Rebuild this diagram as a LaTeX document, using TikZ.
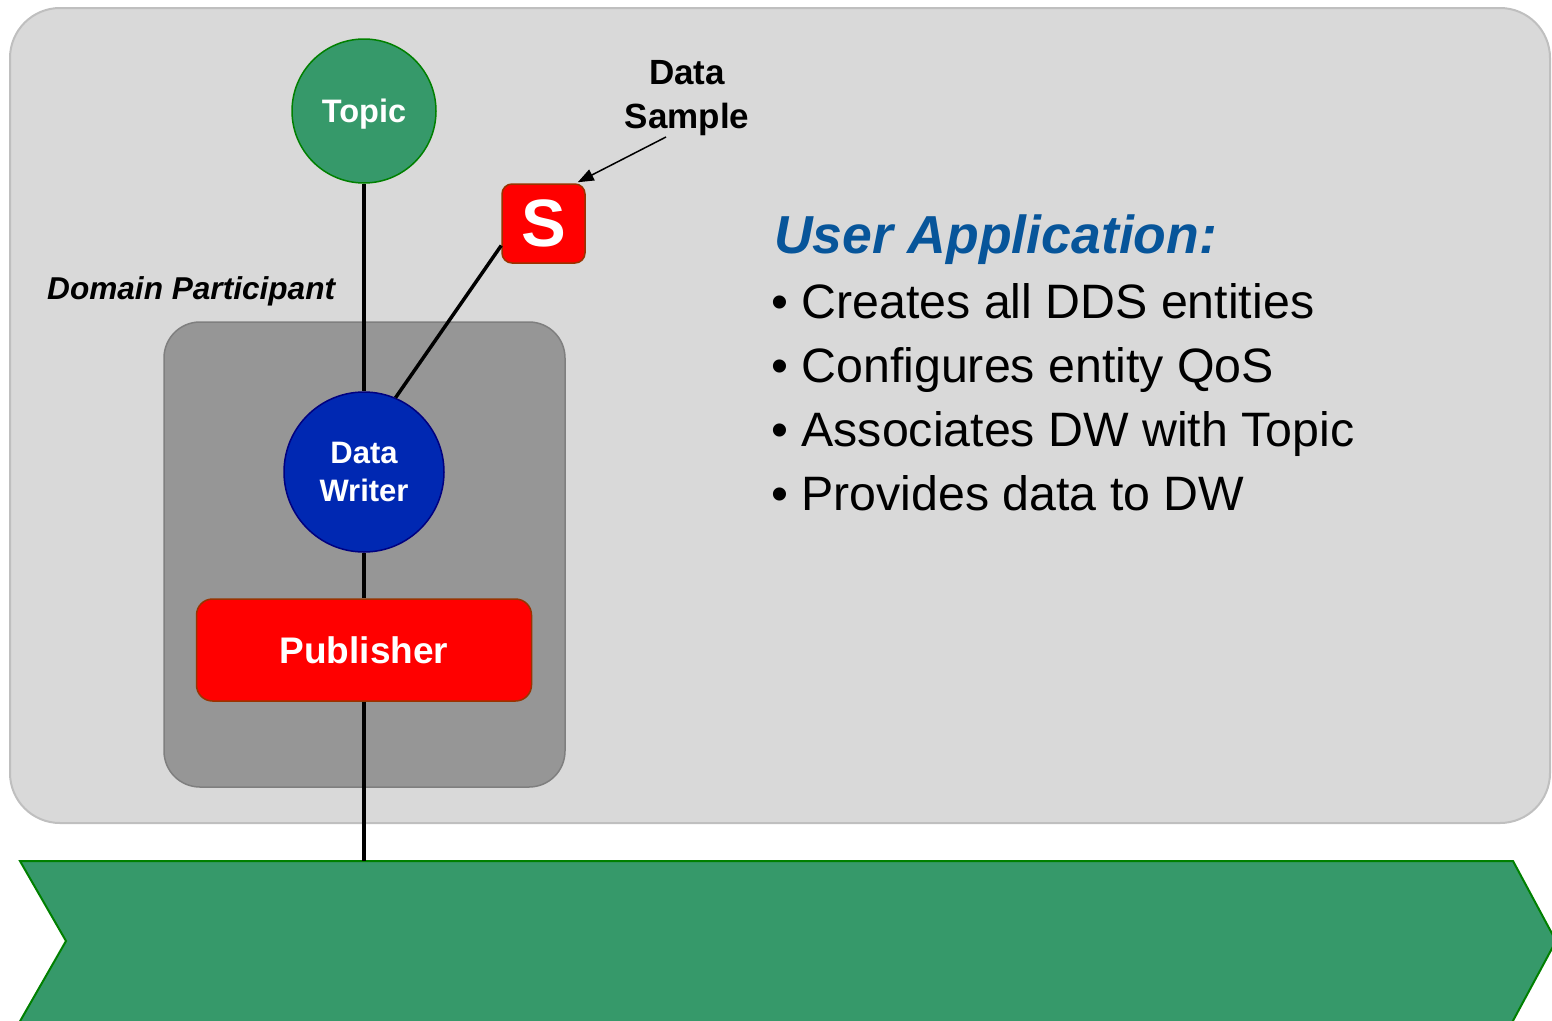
\documentclass[tikz,border=0pt]{standalone}
\usepackage{fontspec}
\setmainfont{Liberation Sans}
\usetikzlibrary{arrows.meta}
\definecolor{panelbg}{HTML}{D9D9D9}
\definecolor{panelln}{HTML}{BFBFBF}
\definecolor{dpbg}{HTML}{969696}
\definecolor{dpln}{HTML}{7F7F7F}
\definecolor{topicfill}{HTML}{36996A}
\definecolor{topicln}{HTML}{008000}
\definecolor{dwfill}{HTML}{0028B2}
\definecolor{dwln}{HTML}{000080}
\definecolor{redfill}{HTML}{FF0000}
\definecolor{redln}{HTML}{993300}
\definecolor{uablue}{HTML}{07559A}
\tikzset{
  entcircle/.style={circle, draw, line width=1.5pt, text=white, align=center, inner sep=0pt},
  redbox/.style={draw=redln, fill=redfill, line width=1.5pt, rounded corners=#1, text=white, inner sep=0pt},
  conn/.style={line width=4pt, black},
  bullettext/.style={anchor=base west, font=\fontsize{48.3}{56}\selectfont, text=black, inner sep=0pt}
}
\begin{document}
\begin{tikzpicture}[x=1pt,y=-1pt]
\useasboundingbox (0,0) rectangle (1552,1020);
\begin{scope}
\clip (0,0) rectangle (1552,1020);
% outer application panel
\draw[fill=panelbg, draw=panelln, line width=2pt, rounded corners=50pt] (10,8) rectangle (1550,823);
% domain participant box
\draw[fill=dpbg, draw=dpln, line width=1.5pt, rounded corners=36pt] (164,322) rectangle (565,787);
% green ribbon
\draw[fill=topicfill, draw=topicln, line width=2pt] (20,861) -- (1513,861) -- (1556,941) -- (1508,1030) -- (15,1030) -- (66,941) -- cycle;
\end{scope}
\coordinate (ribbontop) at (364,861);

\node[entcircle, fill=topicfill, draw=topicln, minimum size=144pt, text depth=0pt, font=\fontsize{32.5}{38}\selectfont\bfseries] (topic) at (364,111) {Topic};
\node[entcircle, fill=dwfill, draw=dwln, minimum size=160pt, font=\fontsize{31}{39}\selectfont\bfseries] (dw) at (364,472) {Data\\[-1pt]Writer};
\node[redbox=16pt, minimum width=335pt, minimum height=102pt, font=\fontsize{37}{44}\selectfont\bfseries] (pub) at (364,650) {Publisher};
\node[redbox=10pt, minimum width=83pt, minimum height=79pt, font=\fontsize{67}{70}\selectfont\bfseries] (smp) at (543.5,223.5) {S};

\draw[conn] (topic) -- (dw);
\draw[conn] (dw) -- (pub);
\draw[conn] (pub) -- (ribbontop);
\draw[line width=3.5pt] (dw.67) -- ([yshift=-22pt]smp.west);

\node[font=\fontsize{35}{44}\selectfont\bfseries, align=center, inner sep=0pt] (dstext) at (687,98) {Data\\Sample};
\coordinate (dstail) at (666,137);
\draw[line width=1.5pt, -{Triangle[length=16pt, width=12pt]}] (dstail) -- ([xshift=-8pt,yshift=1pt]smp.north east);

\node[anchor=base west, inner sep=0pt, font=\fontsize{31.6}{36}\selectfont\bfseries\itshape] (dptext) at (47,299) {Domain Participant};

\node[anchor=base west, inner sep=0pt, text=uablue, font=\fontsize{53.5}{64}\selectfont\bfseries\itshape] (uatitle) at (774,253) {User Application:};
\node[bullettext] (b1) at (771,318) {• Creates all DDS entities};
\node[bullettext] (b2) at (771,382) {• Configures entity QoS};
\node[bullettext] (b3) at (771,446) {• Associates DW with Topic};
\node[bullettext] (b4) at (771,510) {• Provides data to DW};
\end{tikzpicture}
\end{document}
